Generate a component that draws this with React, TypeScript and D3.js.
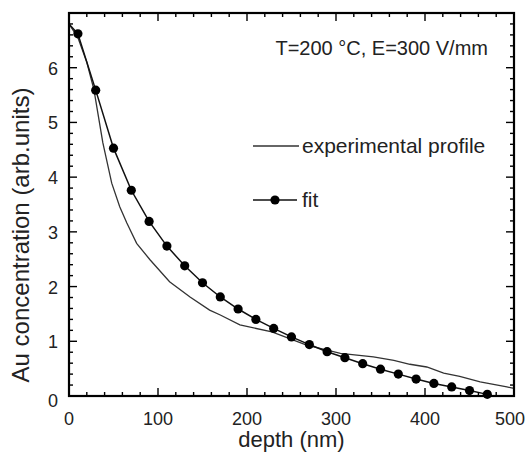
import React from "react";
import * as d3 from "d3";

const expDepth = [0, 10, 20, 28, 38, 48, 57, 65, 76, 91, 113, 136, 158, 170, 192, 228, 267, 305, 342, 365, 383, 402, 421, 439, 462, 492, 500];
const expConc = [6.8, 6.55, 6.1, 5.6, 4.63, 3.89, 3.46, 3.16, 2.79, 2.49, 2.09, 1.81, 1.57, 1.48, 1.3, 1.17, 0.93, 0.78, 0.715, 0.65, 0.58, 0.53, 0.42, 0.36, 0.26, 0.165, 0.14];

const fitLineDepth = [0];
const fitLineConc = [6.8];
const fitDepth = [10, 30, 50, 70, 90, 110, 130, 150, 170, 190, 210, 230, 250, 270, 290, 310, 330, 350, 370, 390, 410, 430, 450, 470];
const fitConc = [6.62, 5.59, 4.53, 3.76, 3.19, 2.74, 2.38, 2.07, 1.81, 1.59, 1.4, 1.235, 1.08, 0.94, 0.81, 0.7, 0.59, 0.49, 0.4, 0.31, 0.23, 0.165, 0.1, 0.03];

const xTicks = [0, 100, 200, 300, 400, 500];
const yTicks = [0, 1, 2, 3, 4, 5, 6];

const annotation = "T=200 °C, E=300 V/mm";
const legendExp = "experimental profile";
const legendFit = "fit";
const xTitle = "depth (nm)";
const yTitle = "Au concentration (arb.units)";

export default function App() {
  const W = 525, H = 458;
  const L = 69, R = 514, T = 13, B = 396;
  const x = d3.scaleLinear().domain([0, 500]).range([L, R]);
  const y = d3.scaleLinear().domain([0, 7]).range([B, T]);
  const font = "'Liberation Sans', Arial, Helvetica, sans-serif";

  const expPts: [number, number][] = expDepth.map((d, i) => [d, expConc[i]]);
  const fitPts: [number, number][] = [
    ...fitLineDepth.map((d, i) => [d, fitLineConc[i]] as [number, number]),
    ...fitDepth.map((d, i) => [d, fitConc[i]] as [number, number]),
  ];
  const line = d3.line<[number, number]>().x((p) => x(p[0])).y((p) => y(p[1]));

  const xMinor = d3.range(0, 501, 20);
  const yMinor = d3.range(0, 36).map((i) => Math.round(i * 2) / 10);
  const isMajX = (v: number) => v % 100 === 0;
  const isMajY = (v: number) => Math.abs(v - Math.round(v)) < 1e-6;
  const MAJ = 8, MIN = 4;

  const tickLines: { x1: number; y1: number; x2: number; y2: number; k: string }[] = [];
  xMinor.forEach((v) => {
    const len = isMajX(v) ? MAJ : MIN;
    tickLines.push({ k: "xb" + v, x1: x(v), x2: x(v), y1: B, y2: B - len });
    tickLines.push({ k: "xt" + v, x1: x(v), x2: x(v), y1: T, y2: T + len });
  });
  yMinor.forEach((v) => {
    const len = isMajY(v) ? MAJ : MIN;
    tickLines.push({ k: "yl" + v, x1: L, x2: L + len, y1: y(v), y2: y(v) });
    tickLines.push({ k: "yr" + v, x1: R, x2: R - len, y1: y(v), y2: y(v) });
  });

  return (
    <svg width={W} height={H} style={{ position: "absolute", left: 0, top: 0, background: "#fff" }} fontFamily={font}>
      <rect x={0} y={0} width={W} height={H} fill="#fff" />
      {/* data */}
      <path d={line(expPts) || ""} fill="none" stroke="#333" strokeWidth={1.3} />
      <path d={line(fitPts) || ""} fill="none" stroke="#111" strokeWidth={1.5} />
      {fitDepth.map((d, i) => (
        <circle key={d} cx={x(d)} cy={y(fitConc[i])} r={4.6} fill="#000" />
      ))}
      {/* frame */}
      <rect x={L} y={T} width={R - L} height={B - T} fill="none" stroke="#000" strokeWidth={2.2} />
      {/* ticks */}
      {tickLines.map((t) => (
        <line key={t.k} x1={t.x1} y1={t.y1} x2={t.x2} y2={t.y2} stroke="#000" strokeWidth={1.4} />
      ))}
      {/* tick labels */}
      <g fontSize={18} fill="#222">
        {xTicks.map((v) => (
          <text key={"xl" + v} x={v === 500 ? 525 : x(v)} y={425} textAnchor={v === 500 ? "end" : "middle"}>{v}</text>
        ))}
        {yTicks.map((v) => (
          <text key={"yl" + v} x={58} y={y(v) + (v === 0 ? 11 : 7)} textAnchor="end">{v}</text>
        ))}
      </g>
      {/* titles */}
      <text x={(L + R) / 2} y={447} fontSize={22} textAnchor="middle" fill="#222">{xTitle}</text>
      <text transform={`translate(29,235) rotate(-90)`} fontSize={24} textAnchor="middle" fill="#222">{yTitle}</text>
      {/* annotation */}
      <text x={488} y={55} fontSize={20} textAnchor="end" fill="#222">{annotation}</text>
      {/* legend */}
      <line x1={253} x2={299} y1={146} y2={146} stroke="#333" strokeWidth={1.3} />
      <text x={302} y={153} fontSize={21} fill="#222">{legendExp}</text>
      <line x1={253} x2={297} y1={200} y2={200} stroke="#111" strokeWidth={1.5} />
      <circle cx={275} cy={200} r={4.6} fill="#000" />
      <text x={302} y={207} fontSize={21} fill="#222">{legendFit}</text>
    </svg>
  );
}
